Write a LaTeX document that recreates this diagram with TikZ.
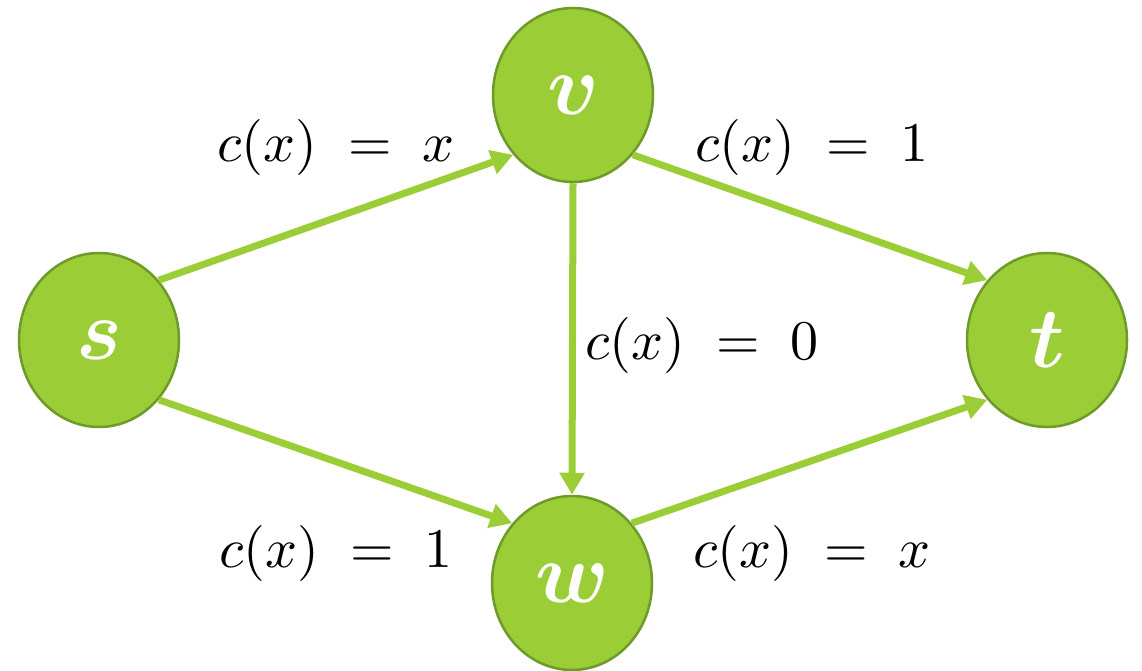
\documentclass[tikz,border=0pt]{standalone}
\usepackage{graphicx}
\usetikzlibrary{arrows.meta,shapes.geometric}
\definecolor{nodefill}{HTML}{9ACD36}
\definecolor{nodeborder}{HTML}{6E9A2A}
\definecolor{edgecol}{HTML}{9ACD36}
\newcommand{\vlet}[1]{\scalebox{8.6}{\boldmath$#1$}}
\newcommand{\clab}[1]{\scalebox{5.6}{$c(x)\;=\;#1$}}
\tikzset{
  vtx/.style={ellipse, draw=nodeborder, line width=2.5pt, fill=nodefill,
    minimum width=160pt, minimum height=174pt, inner sep=0pt,
    text=white},
  edge/.style={draw=edgecol, line width=7pt,
    -{Triangle[length=22pt,width=24pt]}},
  lab/.style={inner sep=0pt}
}
\begin{document}
\begin{tikzpicture}[x=1pt,y=-1pt]
\useasboundingbox (0,0) rectangle (1142,671);
\node[vtx] (s) at (99,340) {\vlet{s}};
\node[vtx] (v) at (573,95) {\vlet{v}};
\node[vtx] (t) at (1047,340) {\vlet{t}};
\node[vtx] (w) at (572,583) {\vlet{w}};
\draw[edge] (s.45) -- (v.225);
\draw[edge] (s.-45) -- (w.135);
\draw[edge] (v.-45) -- (t.135);
\draw[edge] (w.45) -- (t.-135);
\draw[edge] (v.south) -- (w.north);
\node[lab] (l1) at (336,148) {\clab{x}};
\node[lab] (l2) at (812,148) {\clab{1}};
\node[lab] (l3) at (702,345) {\clab{0}};
\node[lab] (l4) at (336,553) {\clab{1}};
\node[lab] (l5) at (812,553) {\clab{x}};
\end{tikzpicture}
\end{document}
